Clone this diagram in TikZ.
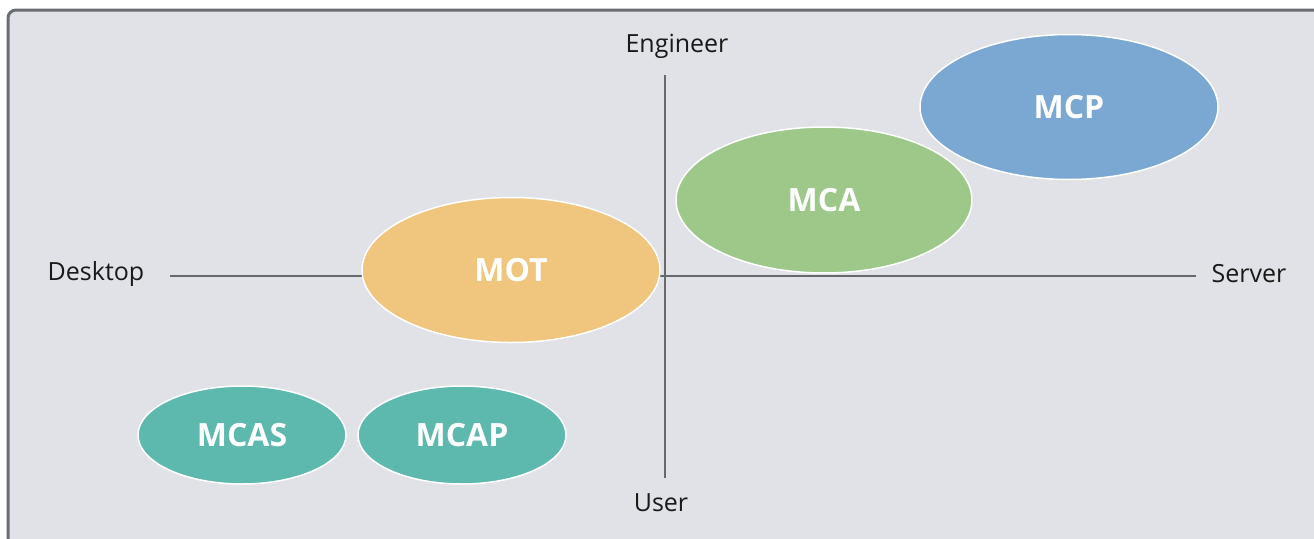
\documentclass[tikz,border=0pt]{standalone}
\usepackage{fontspec}
\setmainfont{Open Sans}
\usetikzlibrary{shapes.geometric}
\definecolor{bgc}{HTML}{E1E2E7}
\definecolor{framec}{HTML}{6A6D73}
\definecolor{axisc}{HTML}{66686D}
\definecolor{mcpc}{HTML}{7BA7D3}
\definecolor{mcac}{HTML}{9DC88A}
\definecolor{motc}{HTML}{F0C57D}
\definecolor{tealc}{HTML}{5DB8AE}
\tikzset{
  blob/.style={ellipse, draw=white, line width=1.5pt, inner sep=0pt, font=\fontsize{32}{36}\selectfont\bfseries, text=white},
  axislabel/.style={font=\fontsize{25}{28}\selectfont, text=black!90, inner sep=0pt},
  axisline/.style={draw=axisc, line width=2.2pt}
}
\begin{document}
\begin{tikzpicture}[x=1pt,y=-1pt]
\useasboundingbox (0,0) rectangle (1314,538);
\begin{scope}
\clip (0,0) rectangle (1314,538);
\fill[white] (0,0) rectangle (1314,538);
\draw[draw=framec, fill=bgc, line width=3pt, rounded corners=8pt] (8,10) rectangle (1340,560);
\end{scope}
% axes
\coordinate (hl) at (170,276);
\coordinate (hr) at (1196,276);
\coordinate (vt) at (665,75);
\coordinate (vb) at (665,478);
\draw[axisline] (hl) -- (hr);
\draw[axisline] (vt) -- (vb);
% labels
\node[axislabel] (eng) at (677,46) {Engineer};
\node[axislabel] (usr) at (661,503) {User};
\node[axislabel] (dsk) at (96,274) {Desktop};
\node[axislabel] (srv) at (1249,274) {Server};
% ellipses
\node[blob, fill=mcpc, minimum width=298pt, minimum height=145pt] (mcp) at (1069,107) {MCP};
\node[blob, fill=mcac, minimum width=296pt, minimum height=146pt] (mca) at (824,200) {MCA};
\node[blob, fill=motc, minimum width=298pt, minimum height=145pt] (mot) at (511,270) {MOT};
\node[blob, fill=tealc, minimum width=208pt, minimum height=98pt] (mcas) at (242,435) {MCAS};
\node[blob, fill=tealc, minimum width=208pt, minimum height=98pt] (mcap) at (462,435) {MCAP};
\end{tikzpicture}
\end{document}
